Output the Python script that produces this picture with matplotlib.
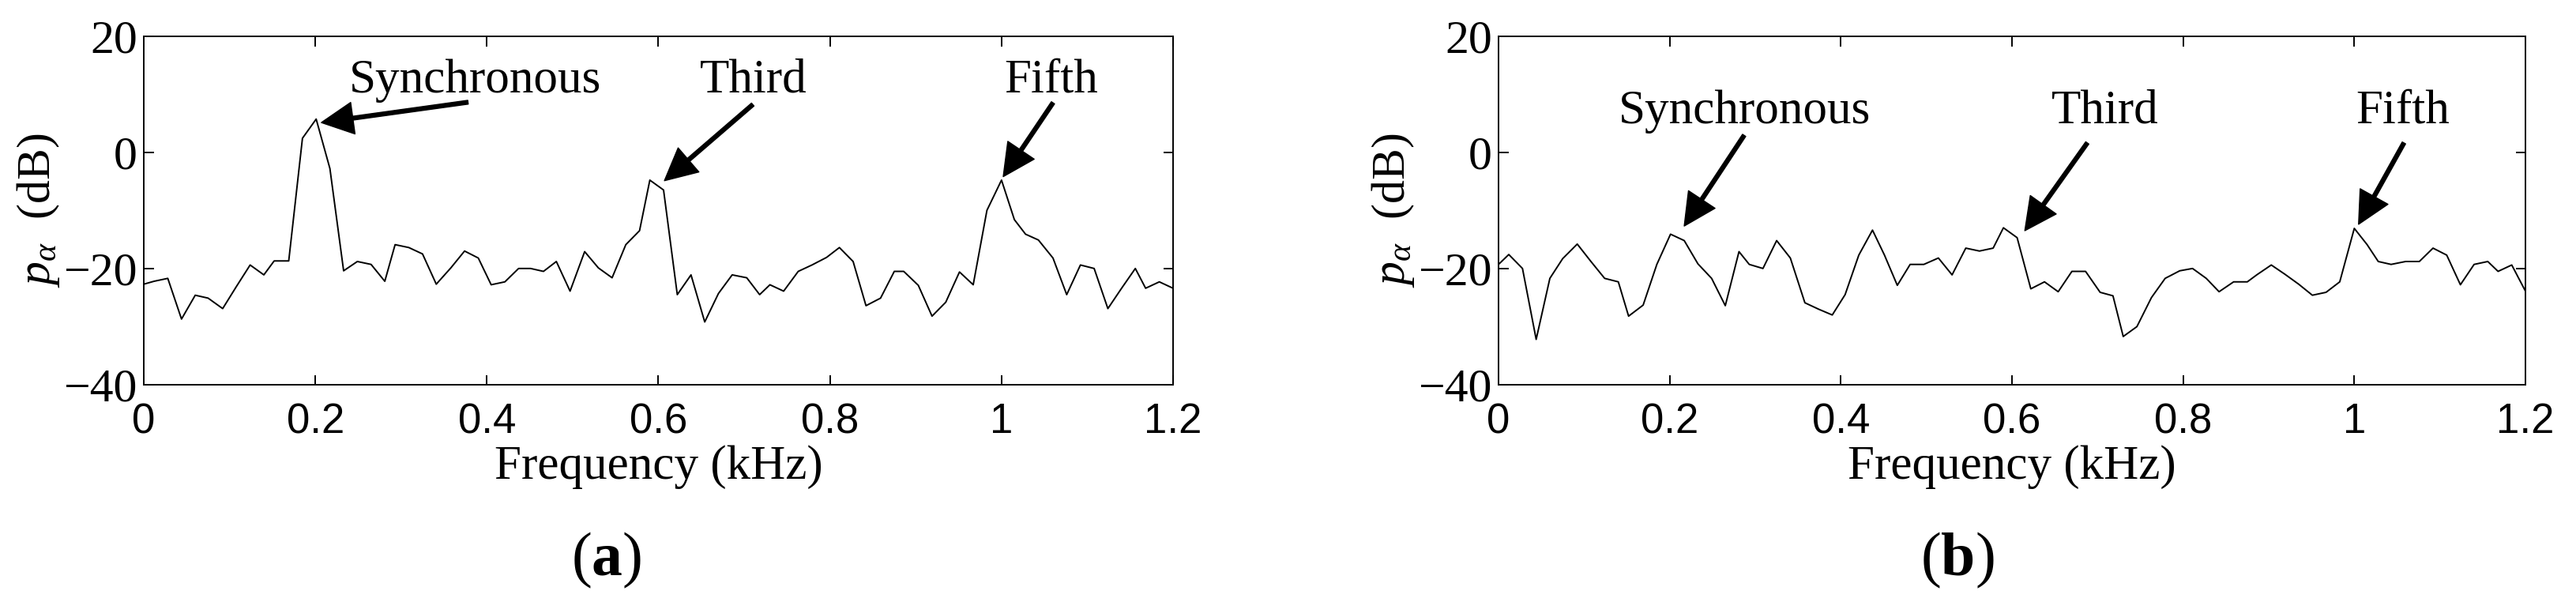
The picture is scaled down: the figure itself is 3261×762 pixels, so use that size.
import numpy as np
import matplotlib
matplotlib.use('Agg')
import matplotlib.pyplot as plt

plt.rcParams['font.family'] = ['Liberation Serif', 'DejaVu Serif']
plt.rcParams['mathtext.fontset'] = 'custom'
plt.rcParams['mathtext.rm'] = 'Liberation Serif'
plt.rcParams['mathtext.it'] = 'Liberation Serif:italic'
plt.rcParams['mathtext.bf'] = 'Liberation Serif:bold'

# frequency grid (kHz), shared by both spectra
freq = [0, 0.012, 0.028, 0.044, 0.060, 0.075, 0.092, 0.108, 0.124, 0.140,
        0.152, 0.169, 0.185, 0.201, 0.217, 0.233, 0.249, 0.265, 0.281, 0.293,
        0.309, 0.325, 0.341, 0.358, 0.374, 0.390, 0.405, 0.421, 0.437, 0.451,
        0.466, 0.481, 0.497, 0.514, 0.530, 0.546, 0.562, 0.578, 0.590, 0.606,
        0.622, 0.638, 0.654, 0.670, 0.686, 0.703, 0.718, 0.730, 0.746, 0.763,
        0.779, 0.796, 0.811, 0.827, 0.842, 0.859, 0.875, 0.886, 0.903, 0.919,
        0.935, 0.951, 0.967, 0.983, 1.000, 1.015, 1.028, 1.043, 1.060, 1.076,
        1.092, 1.108, 1.124, 1.140, 1.156, 1.168, 1.184, 1.200]

# panel (a) p_alpha in dB
p_a = [-22.7, -22.2, -21.7, -28.7, -24.6, -25.1, -26.9, -23.1, -19.4, -21.1,
       -18.7, -18.7, 2.4, 5.7, -2.8, -20.4, -18.8, -19.3, -22.2, -15.9,
       -16.4, -17.5, -22.7, -19.9, -17.0, -18.2, -22.8, -22.3, -20.0, -20.0,
       -20.5, -18.8, -23.9, -17.1, -19.9, -21.6, -15.9, -13.5, -4.8, -6.5,
       -24.5, -21.1, -29.2, -24.3, -21.1, -21.6, -24.5, -22.8, -23.9, -20.5,
       -19.4, -18.1, -16.4, -18.8, -26.4, -25.1, -20.5, -20.5, -22.9, -28.2,
       -25.8, -20.6, -22.8, -10.0, -4.8, -11.6, -14.1, -15.1, -18.2, -24.5,
       -19.4, -20.0, -26.9, -23.4, -20.0, -23.4, -22.3, -23.4]

# panel (b) p_alpha in dB
p_b = [-19.3, -17.6, -20.0, -32.2, -21.7, -18.3, -15.8, -18.8, -21.7, -22.3,
       -28.2, -26.3, -19.3, -14.1, -15.2, -19.2, -21.7, -26.4, -17.1, -19.3,
       -20.0, -15.2, -18.2, -25.9, -27.0, -28.0, -24.5, -17.7, -13.4, -17.7,
       -22.9, -19.3, -19.3, -18.2, -21.1, -16.5, -17.0, -16.5, -13.0, -14.7,
       -23.5, -22.3, -24.0, -20.5, -20.5, -24.1, -24.7, -31.7, -30.0, -25.0,
       -21.7, -20.4, -20.0, -21.7, -24.0, -22.3, -22.3, -21.1, -19.4, -21.0,
       -22.7, -24.6, -24.1, -22.3, -13.1, -15.9, -18.8, -19.3, -18.8, -18.8,
       -16.5, -17.7, -22.8, -19.3, -18.8, -20.5, -19.4, -23.9]

xticks = [0, 0.2, 0.4, 0.6, 0.8, 1.0, 1.2]
xticklabels = ['0', '0.2', '0.4', '0.6', '0.8', '1', '1.2']
yticks = [-40, -20, 0, 20]
harmonics = ['Synchronous', 'Third', 'Fifth']

# (text x, text y, arrow tail, arrow tip) per harmonic, in data units
notes_a = [(0.386, 10.3, (0.378, 8.6), (0.207, 5.1)),
           (0.711, 10.4, (0.710, 8.2), (0.607, -4.9)),
           (1.058, 10.4, (1.060, 8.5), (1.002, -4.2))]
notes_b = [(0.288, 5.0, (0.287, 2.9), (0.217, -12.7)),
           (0.709, 5.1, (0.688, 1.6), (0.615, -13.5)),
           (1.057, 5.1, (1.058, 1.6), (1.005, -12.4))]

fig = plt.figure(figsize=(32.62, 7.62), dpi=100)
W, H = 3262, 762
ax_a = fig.add_axes([182 / W, 1 - 487 / H, 1303 / W, 441.5 / H])
ax_b = fig.add_axes([1897 / W, 1 - 487 / H, 1300 / W, 441.5 / H])


def draw_panel(ax, values, notes, tag, tag_x):
    ax.plot(freq, values, color='black', lw=1.4)
    ax.set_xlim(0, 1.2)
    ax.set_ylim(-40, 20)
    ax.set_xticks(xticks, labels=xticklabels, fontsize=38, fontfamily='Liberation Sans')
    ax.set_yticks(yticks)
    ax.tick_params(axis='y', labelsize=43, pad=6)
    ax.tick_params(axis='x', pad=16)
    ax.tick_params(direction='in', top=True, right=True, length=9, width=1.4)
    for s in ax.spines.values():
        s.set_linewidth(1.4)
    ax.set_xlabel('Frequency (kHz)', fontsize=44)
    ax.xaxis.label.set_va('baseline')
    ax.xaxis.set_label_coords(0.5, -0.27)
    ax.set_ylabel(r'$p_{α}$  (dB)', fontsize=43)
    ax.yaxis.set_label_coords(-0.08, 0.5)

    for name, (tx, ty, tail, tip) in zip(harmonics, notes):
        ax.text(tx, ty, name, fontsize=44, ha='center', va='baseline')
        ax.annotate('', xy=tip, xytext=tail,
                    arrowprops=dict(facecolor='black', edgecolor='black',
                                    width=3.5, headwidth=29, headlength=29,
                                    shrink=0))
    fig.text(tag_x, 1 - 728 / H, '(' + r'$\mathbf{' + tag + '}$' + ')',
             fontsize=56, ha='center', va='baseline')


draw_panel(ax_a, p_a, notes_a, 'a', 768 / W)
draw_panel(ax_b, p_b, notes_b, 'b', 2478 / W)

fig.savefig('out.png', dpi=100)
